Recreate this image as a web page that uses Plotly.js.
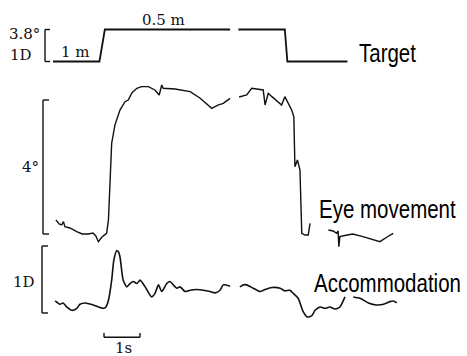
<!DOCTYPE html>
<html><head><meta charset="utf-8">
<script src="https://cdn.plot.ly/plotly-3.0.1.min.js"></script>
<style>html,body{margin:0;padding:0;background:#fff}#chart{width:467px;height:356px}</style>
</head><body><div id="chart"></div>
<script>
// time in seconds from start of record
const targetT = [0, 1.29, 1.44, 4.92, null, 5.15, 6.44, 6.51, 8.18];
const targetD = [1, 1, 2, 2, null, 2, 2, 1, 1]; // diopters (1 m -> 1D, 0.5 m -> 2D)

const eyeT = [0.08,0.17,0.24,0.29,0.33,0.47,0.66,0.81,0.98,1.11,1.19,1.26,1.36,1.49,1.54,1.58,1.63,1.72,1.86,2.00,2.09,2.19,2.33,2.46,2.65,2.83,2.95,3.02,3.06,3.39,3.81,4.08,4.41,4.58,4.73,4.92,
  null,
  5.17,5.28,5.38,5.52,5.67,5.84,5.89,5.98,6.08,6.35,6.44,6.63,6.69,6.72,6.79,6.86,6.91,7.00,7.09,7.14,
  null,
  7.65,7.78,7.88,7.92,7.94,7.97,8.17,8.33,8.61,8.86,9.08,9.28,9.45];
const eyeDeg = [0.42,0.30,0.27,0.37,0.22,0.18,0.07,0.00,0.00,0.03,-0.06,-0.23,-0.09,0.02,0.42,1.31,2.71,3.25,3.70,3.95,4.00,4.21,4.35,4.40,4.40,4.30,4.15,4.45,4.35,4.33,4.25,4.06,3.75,3.85,3.90,4.05,
  null,
  4.09,4.12,4.15,4.35,4.33,4.30,3.85,4.20,4.10,3.85,4.10,3.70,3.50,2.01,2.21,1.91,0.02,-0.03,-0.03,0.32,
  null,
  0.12,0.09,0.02,0.09,-0.38,-0.08,-0.03,0.00,-0.08,-0.15,-0.23,-0.09,0.02];

const accT = [0.06,0.19,0.28,0.38,0.52,0.66,0.75,0.89,1.12,1.40,1.47,1.54,1.63,1.69,1.77,1.82,1.86,1.95,2.05,2.14,2.23,2.33,2.42,2.56,2.74,2.83,2.93,3.02,3.16,3.25,3.34,3.44,3.53,3.67,3.81,3.99,4.18,4.36,4.50,4.64,4.73,4.92,
  null,
  5.19,5.29,5.38,5.56,5.75,5.89,6.08,6.31,6.44,6.58,6.68,6.81,6.95,7.06,7.19,7.28,7.42,7.56,7.69,7.83,7.97,8.11,
  null,
  8.34,8.53,8.76,8.99,9.18,9.36,9.45,9.55];
const accD = [0.18,0.13,0.15,0.09,0.04,0.07,0.13,0.15,0.12,0.07,0.09,0.19,0.49,0.79,0.93,0.91,0.84,0.49,0.39,0.44,0.47,0.44,0.49,0.39,0.24,0.29,0.42,0.32,0.44,0.47,0.42,0.37,0.39,0.32,0.34,0.35,0.34,0.32,0.30,0.34,0.42,0.40,
  null,
  0.39,0.42,0.42,0.37,0.32,0.35,0.38,0.37,0.33,0.34,0.29,0.22,0.02,-0.06,-0.04,0.04,0.09,0.07,0.09,0.06,0.09,0.24,
  null,
  0.24,0.22,0.15,0.12,0.13,0.17,0.18,0.15];

// scale bar sizes
const timeBar = 1;     // s
const targetBar = 1;   // D (= 3.8 deg)
const eyeBar = 4;      // deg
const accBar = 1;      // D

const W = 467, H = 356;
const pxPerS = 36;
const x0px = 53;
const xr = [-x0px/pxPerS, (W - x0px)/pxPerS];
function rng(zeroPy, pxPerUnit){ return [(zeroPy - H)/pxPerUnit, zeroPy/pxPerUnit]; }

const traces = [
  {x: targetT, y: targetD, yaxis: 'y', mode: 'lines', line: {color: '#111', width: 1.8}, connectgaps: false, hoverinfo: 'skip'},
  {x: eyeT, y: eyeDeg, yaxis: 'y2', mode: 'lines', line: {color: '#111', width: 1.4}, connectgaps: false, hoverinfo: 'skip'},
  {x: accT, y: accD, yaxis: 'y3', mode: 'lines', line: {color: '#111', width: 1.6, shape: 'spline', smoothing: 0.6}, connectgaps: false, hoverinfo: 'skip'}
];

const k = 1/pxPerS;
const shapes = [];
function bracket(xs, yref, y0, y1, tickLen){
  const l = {color: '#111', width: 1.4};
  shapes.push({type:'line', xref:'x', yref:yref, x0:xs, x1:xs, y0:y0, y1:y1, line:l});
  shapes.push({type:'line', xref:'x', yref:yref, x0:xs, x1:xs+tickLen, y0:y0, y1:y0, line:l});
  shapes.push({type:'line', xref:'x', yref:yref, x0:xs, x1:xs+tickLen, y0:y1, y1:y1, line:l});
}
bracket(-8*k, 'y', 1, 1 + targetBar, 5*k);
bracket(-10*k, 'y2', 0, eyeBar, 6*k);
bracket(-11*k, 'y3', 0, accBar, 6*k);
// time bar
const tb0 = 51*k, tbY = -0.363, tbTick = 0.065;
shapes.push({type:'line', xref:'x', yref:'y3', x0:tb0, x1:tb0+timeBar, y0:tbY, y1:tbY, line:{color:'#111', width:1.4}});
shapes.push({type:'line', xref:'x', yref:'y3', x0:tb0, x1:tb0, y0:tbY, y1:tbY+tbTick, line:{color:'#111', width:1.4}});
shapes.push({type:'line', xref:'x', yref:'y3', x0:tb0+timeBar, x1:tb0+timeBar, y0:tbY, y1:tbY+tbTick, line:{color:'#111', width:1.4}});

const serif = {family: 'DejaVu Serif', size: 15, color: '#111'};
const sans = {family: '"Liberation Sans", Arial, sans-serif', size: 25, color: '#000'};
function ann(text, px, py, xanchor, font){
  return {text: text, xref:'paper', yref:'paper', x: px/W, y: 1 - py/H, xanchor: xanchor, yanchor:'middle', showarrow:false, font: font};
}
const annotations = [
  ann('3.8°', 42, 34, 'right', serif),
  ann('1D', 34, 55, 'right', serif),
  ann('1 m', 59, 52, 'left', serif),
  ann('0.5 m', 140, 20, 'left', serif),
  ann('4°', 41, 167, 'right', serif),
  ann('1D', 37, 282, 'right', serif),
  ann('1s', 123, 348, 'center', serif),
  ann('Target', 357, 53, 'left', sans),
  ann('Eye movement', 317, 209, 'left', sans),
  ann('Accommodation', 312, 283, 'left', sans)
];

const ax = {visible:false, showgrid:false, zeroline:false, fixedrange:true};
const layout = {
  width: W, height: H,
  margin: {l:0, r:0, t:0, b:0},
  paper_bgcolor: '#fff', plot_bgcolor: '#fff',
  showlegend: false,
  xaxis: Object.assign({range: xr}, ax),
  yaxis: Object.assign({range: rng(61.5 + 32, 32)}, ax),
  yaxis2: Object.assign({range: rng(234, 33.5), overlaying:'y'}, ax),
  yaxis3: Object.assign({range: rng(313, 67), overlaying:'y'}, ax),
  shapes: shapes,
  annotations: annotations
};
Plotly.newPlot('chart', traces, layout, {staticPlot:true, displayModeBar:false}).then(function(gd){
  // condensed (narrow) look for the sans-serif labels, scaled about their left edge
  [7, 8, 9].forEach(function(i){
    const g = gd.querySelector('.annotation[data-index="' + i + '"]');
    if (!g) return;
    const t = g.querySelector('text.annotation-text');
    if (!t) return;
    const bb = t.getBBox();
    const s = 0.82;
    t.setAttribute('transform', 'translate(' + bb.x + ',0) scale(' + s + ',1) translate(' + (-bb.x) + ',0)');
  });
});
</script>
</body></html>
